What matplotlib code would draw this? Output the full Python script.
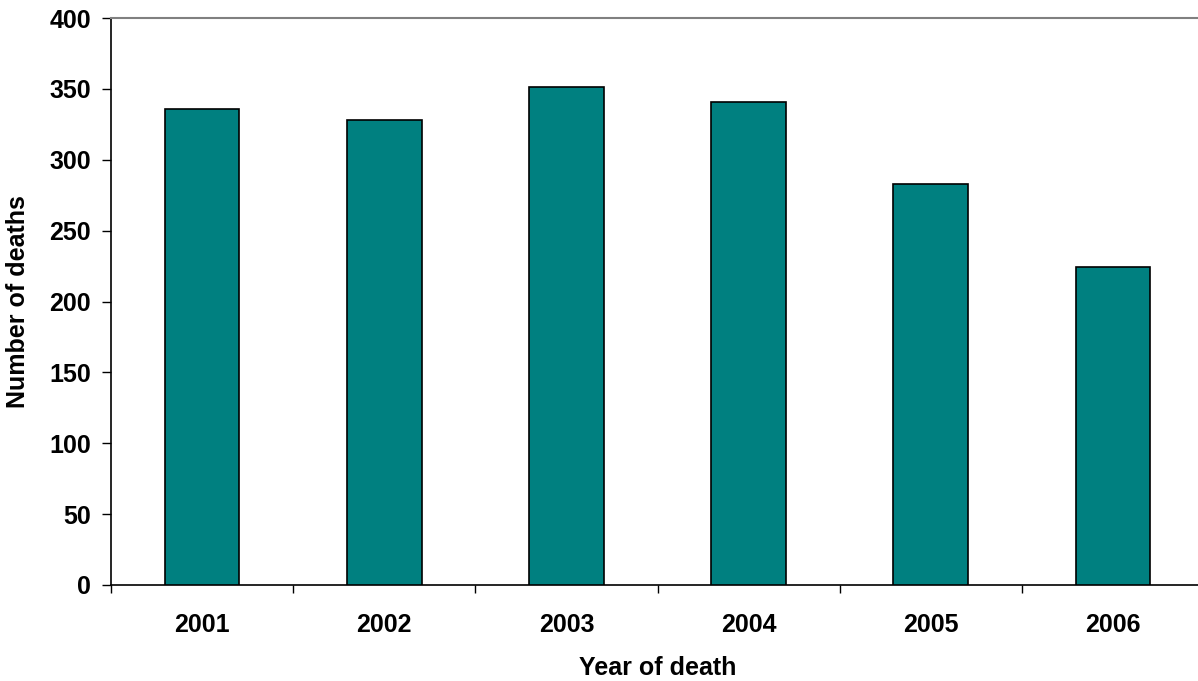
import numpy as np
import matplotlib.pyplot as plt
from matplotlib.ticker import FixedLocator

years = ["2001", "2002", "2003", "2004", "2005", "2006"]
deaths = [336, 328, 351, 341, 283, 224]
y_ticks = [0, 50, 100, 150, 200, 250, 300, 350, 400]

plt.rcParams["font.family"] = ["Liberation Sans", "DejaVu Sans"]
plt.rcParams["font.weight"] = "bold"

fig = plt.figure(figsize=(11.98, 6.81), dpi=100)
W, H = 1198, 681
ax = fig.add_axes([111 / W, (H - 585) / H, (1204 - 111) / W, (585 - 18) / H])

x = np.arange(len(years))
ax.bar(x, deaths, width=0.41, color="#008080", edgecolor="black", linewidth=1.2, zorder=3)

ax.set_xlim(-0.5, len(years) - 0.5)
ax.set_ylim(0, 400)
ax.set_yticks(y_ticks)
ax.set_yticklabels([str(v) for v in y_ticks], fontsize=18, fontweight="bold")
ax.set_xticks(x)
ax.set_xticklabels(years, fontsize=18, fontweight="bold")
ax.xaxis.set_minor_locator(FixedLocator(np.arange(-0.5, len(years), 1.0)))
ax.tick_params(axis="x", which="major", length=0, pad=20)
ax.tick_params(axis="x", which="minor", length=6, width=1, direction="out")
ax.tick_params(axis="y", length=6.5, width=1, direction="out", pad=8)

ax.spines["right"].set_visible(False)
ax.spines["top"].set_color("#808080")
ax.spines["top"].set_linewidth(1.5)
ax.spines["left"].set_linewidth(1.2)
ax.spines["bottom"].set_linewidth(1.2)

ax.set_xlabel("Year of death", fontsize=18, fontweight="bold", labelpad=14)
ax.set_ylabel("Number of deaths", fontsize=18, fontweight="bold", labelpad=14)

fig.savefig("out.png", dpi=100)
